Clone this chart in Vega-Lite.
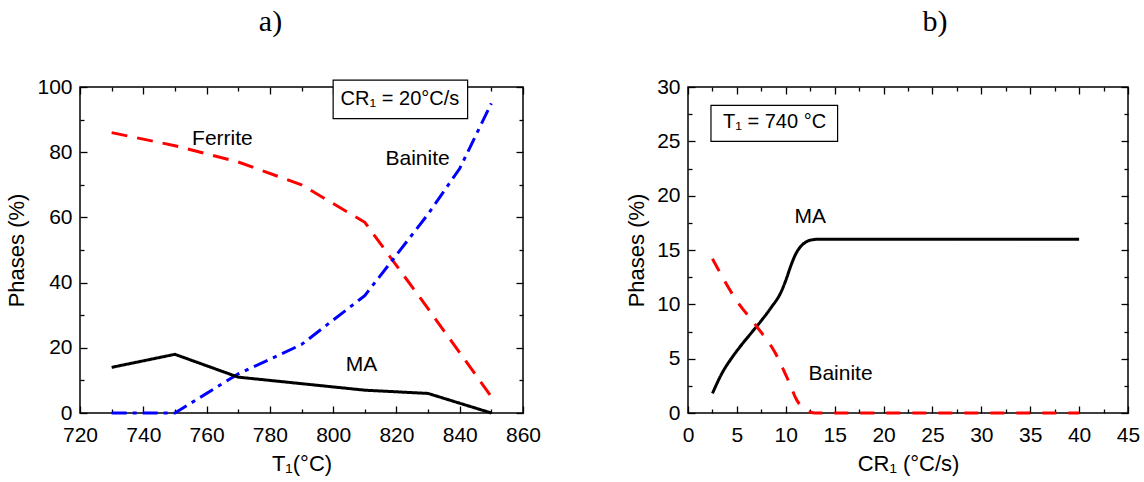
{
  "$schema": "https://vega.github.io/schema/vega-lite/v6.json",
  "padding": {"left": 5, "top": 6, "right": 2, "bottom": 5},
  "background": "white",
  "config": {
    "view": {"stroke": "black", "strokeWidth": 1.5},
    "font": "Liberation Sans",
    "axis": {
      "grid": false, "domain": false, "labelFlush": false,
      "labelFont": "Liberation Sans", "labelFontSize": 21, "labelColor": "black",
      "titleFont": "Liberation Sans", "titleFontSize": 22, "titleFontWeight": "normal", "titleColor": "black",
      "tickColor": "black", "tickWidth": 1.3
    }
  },
  "datasets": {
    "a_lines": [
      {"T": 730, "v": 86, "phase": "Ferrite"},
      {"T": 750, "v": 82, "phase": "Ferrite"},
      {"T": 770, "v": 77, "phase": "Ferrite"},
      {"T": 790, "v": 70, "phase": "Ferrite"},
      {"T": 810, "v": 58.5, "phase": "Ferrite"},
      {"T": 830, "v": 32, "phase": "Ferrite"},
      {"T": 850, "v": 5, "phase": "Ferrite"},
      {"T": 730, "v": 0, "phase": "Bainite"},
      {"T": 750, "v": 0, "phase": "Bainite"},
      {"T": 770, "v": 12, "phase": "Bainite"},
      {"T": 790, "v": 21, "phase": "Bainite"},
      {"T": 810, "v": 36, "phase": "Bainite"},
      {"T": 830, "v": 61, "phase": "Bainite"},
      {"T": 840, "v": 75, "phase": "Bainite"},
      {"T": 850, "v": 95, "phase": "Bainite"},
      {"T": 730, "v": 14, "phase": "MA"},
      {"T": 750, "v": 18, "phase": "MA"},
      {"T": 770, "v": 11, "phase": "MA"},
      {"T": 790, "v": 9, "phase": "MA"},
      {"T": 810, "v": 7, "phase": "MA"},
      {"T": 830, "v": 6, "phase": "MA"},
      {"T": 850, "v": 0, "phase": "MA"}
    ],
    "a_labels": [
      {"x": 765, "y": 84.2, "label": "Ferrite"},
      {"x": 826.7, "y": 77.8, "label": "Bainite"},
      {"x": 809, "y": 14.6, "label": "MA"}
    ],
    "a_box": [
      {"x1": 800, "x2": 842.5, "y1": 90.3, "y2": 102.1, "cx": 821.1, "cy": 96.3, "label": "CR₁ = 20°C/s"}
    ],
    "b_lines": [
      {"CR": 2.5, "v": 1.8, "phase": "MA"},
      {"CR": 3.5, "v": 3.7, "phase": "MA"},
      {"CR": 4.5, "v": 5.1, "phase": "MA"},
      {"CR": 5.5, "v": 6.3, "phase": "MA"},
      {"CR": 6.5, "v": 7.4, "phase": "MA"},
      {"CR": 7.5, "v": 8.5, "phase": "MA"},
      {"CR": 8.5, "v": 9.7, "phase": "MA"},
      {"CR": 9.5, "v": 11.1, "phase": "MA"},
      {"CR": 10, "v": 12.2, "phase": "MA"},
      {"CR": 10.5, "v": 13.5, "phase": "MA"},
      {"CR": 11, "v": 14.6, "phase": "MA"},
      {"CR": 11.5, "v": 15.3, "phase": "MA"},
      {"CR": 12, "v": 15.7, "phase": "MA"},
      {"CR": 12.5, "v": 15.9, "phase": "MA"},
      {"CR": 13.5, "v": 16, "phase": "MA"},
      {"CR": 40, "v": 16, "phase": "MA"},
      {"CR": 2.5, "v": 14.2, "phase": "Bainite"},
      {"CR": 5, "v": 10.3, "phase": "Bainite"},
      {"CR": 7, "v": 8.0, "phase": "Bainite"},
      {"CR": 9, "v": 5.4, "phase": "Bainite"},
      {"CR": 10, "v": 3.5, "phase": "Bainite"},
      {"CR": 10.5, "v": 2.5, "phase": "Bainite"},
      {"CR": 11, "v": 1.4, "phase": "Bainite"},
      {"CR": 11.5, "v": 0.7, "phase": "Bainite"},
      {"CR": 12, "v": 0.3, "phase": "Bainite"},
      {"CR": 12.5, "v": 0.08, "phase": "Bainite"},
      {"CR": 13, "v": 0, "phase": "Bainite"},
      {"CR": 40, "v": 0, "phase": "Bainite"}
    ],
    "b_labels": [
      {"x": 12.5, "y": 18.0, "label": "MA"},
      {"x": 15.6, "y": 3.6, "label": "Bainite"}
    ],
    "b_box": [
      {"x1": 2.35, "x2": 15.3, "y1": 25.0, "y2": 28.3, "cx": 8.85, "cy": 26.75, "label": "T₁ = 740 °C"}
    ]
  },
  "hconcat": [
    {
      "width": 443, "height": 326,
      "title": {"text": "a)", "font": "Liberation Serif", "fontSize": 30, "fontWeight": "normal", "color": "black", "anchor": "middle", "frame": "group", "dx": -31, "offset": 39},
      "layer": [
        {
          "data": {"name": "a_lines"},
          "mark": {"type": "line", "strokeWidth": 3},
          "encoding": {
            "x": {"field": "T", "type": "quantitative", "scale": {"domain": [720, 860], "nice": false, "zero": false},
                  "axis": {"orient": "bottom", "values": [720, 740, 760, 780, 800, 820, 840, 860], "tickSize": -7, "labelPadding": 18, "title": "T₁(°C)", "titlePadding": 8}},
            "y": {"field": "v", "type": "quantitative", "scale": {"domain": [0, 100], "nice": false},
                  "axis": {"orient": "left", "values": [0, 20, 40, 60, 80, 100], "tickSize": -7, "labelPadding": 15, "title": "Phases (%)", "titlePadding": 8}},
            "color": {"field": "phase", "type": "nominal", "scale": {"domain": ["Ferrite", "Bainite", "MA"], "range": ["#ff0000", "#0000ff", "#000000"]}, "legend": null},
            "strokeDash": {"field": "phase", "type": "nominal", "scale": {"domain": ["Ferrite", "Bainite", "MA"], "range": [[16, 10], [15, 6, 4, 6], [1, 0]]}, "legend": null}
          }
        },
        {
          "data": {"name": "a_labels"},
          "mark": {"type": "text", "fontSize": 21, "font": "Liberation Sans", "color": "black"},
          "encoding": {
            "x": {"field": "x", "type": "quantitative", "axis": {"orient": "top", "values": [720, 740, 760, 780, 800, 820, 840, 860], "tickSize": -7, "labels": false, "title": null}},
            "y": {"field": "y", "type": "quantitative", "axis": {"orient": "right", "values": [0, 20, 40, 60, 80, 100], "tickSize": -7, "labels": false, "title": null}},
            "text": {"field": "label"}
          }
        },
        {
          "data": {"name": "a_box"},
          "mark": {"type": "rect", "fill": "white", "stroke": "black", "strokeWidth": 1.2},
          "encoding": {
            "x": {"field": "x1", "type": "quantitative", "axis": {"orient": "bottom", "values": [730, 750, 770, 790, 810, 830, 850], "tickSize": -4, "labels": false, "title": null}},
            "x2": {"field": "x2"},
            "y": {"field": "y1", "type": "quantitative", "axis": {"orient": "left", "values": [10, 30, 50, 70, 90], "tickSize": -4, "labels": false, "title": null}},
            "y2": {"field": "y2"}
          }
        },
        {
          "data": {"name": "a_box"},
          "mark": {"type": "text", "fontSize": 20, "font": "Liberation Sans", "color": "black"},
          "encoding": {
            "x": {"field": "cx", "type": "quantitative", "axis": {"orient": "top", "values": [730, 750, 770, 790, 810, 830, 850], "tickSize": -4, "labels": false, "title": null}},
            "y": {"field": "cy", "type": "quantitative", "axis": {"orient": "right", "values": [10, 30, 50, 70, 90], "tickSize": -4, "labels": false, "title": null}},
            "text": {"field": "label"}
          }
        }
      ],
      "resolve": {"axis": {"x": "independent", "y": "independent"}}
    },
    {
      "width": 440, "height": 326,
      "title": {"text": "b)", "font": "Liberation Serif", "fontSize": 30, "fontWeight": "normal", "color": "black", "anchor": "middle", "frame": "group", "dx": 27, "offset": 39},
      "layer": [
        {
          "data": {"name": "b_lines"},
          "mark": {"type": "line", "strokeWidth": 3, "interpolate": "monotone"},
          "encoding": {
            "x": {"field": "CR", "type": "quantitative", "scale": {"domain": [0, 45], "nice": false},
                  "axis": {"orient": "bottom", "values": [0, 5, 10, 15, 20, 25, 30, 35, 40, 45], "tickSize": -7, "labelPadding": 18, "title": "CR₁ (°C/s)", "titlePadding": 8}},
            "y": {"field": "v", "type": "quantitative", "scale": {"domain": [0, 30], "nice": false},
                  "axis": {"orient": "left", "values": [0, 5, 10, 15, 20, 25, 30], "tickSize": -7, "labelPadding": 15, "title": "Phases (%)", "titlePadding": 8}},
            "color": {"field": "phase", "type": "nominal", "scale": {"domain": ["MA", "Bainite"], "range": ["#000000", "#ff0000"]}, "legend": null},
            "strokeDash": {"field": "phase", "type": "nominal", "scale": {"domain": ["MA", "Bainite"], "range": [[1, 0], [14, 12]]}, "legend": null}
          }
        },
        {
          "data": {"name": "b_labels"},
          "mark": {"type": "text", "fontSize": 21, "font": "Liberation Sans", "color": "black"},
          "encoding": {
            "x": {"field": "x", "type": "quantitative", "axis": {"orient": "top", "values": [0, 5, 10, 15, 20, 25, 30, 35, 40, 45], "tickSize": -7, "labels": false, "title": null}},
            "y": {"field": "y", "type": "quantitative", "axis": {"orient": "right", "values": [0, 5, 10, 15, 20, 25, 30], "tickSize": -7, "labels": false, "title": null}},
            "text": {"field": "label"}
          }
        },
        {
          "data": {"name": "b_box"},
          "mark": {"type": "rect", "fill": "white", "stroke": "black", "strokeWidth": 1.2},
          "encoding": {
            "x": {"field": "x1", "type": "quantitative", "axis": {"orient": "bottom", "values": [2.5, 7.5, 12.5, 17.5, 22.5, 27.5, 32.5, 37.5, 42.5], "tickSize": -4, "labels": false, "title": null}},
            "x2": {"field": "x2"},
            "y": {"field": "y1", "type": "quantitative", "axis": {"orient": "left", "values": [2.5, 7.5, 12.5, 17.5, 22.5, 27.5], "tickSize": -4, "labels": false, "title": null}},
            "y2": {"field": "y2"}
          }
        },
        {
          "data": {"name": "b_box"},
          "mark": {"type": "text", "fontSize": 20, "font": "Liberation Sans", "color": "black"},
          "encoding": {
            "x": {"field": "cx", "type": "quantitative", "axis": {"orient": "top", "values": [2.5, 7.5, 12.5, 17.5, 22.5, 27.5, 32.5, 37.5, 42.5], "tickSize": -4, "labels": false, "title": null}},
            "y": {"field": "cy", "type": "quantitative", "axis": {"orient": "right", "values": [2.5, 7.5, 12.5, 17.5, 22.5, 27.5], "tickSize": -4, "labels": false, "title": null}},
            "text": {"field": "label"}
          }
        }
      ],
      "resolve": {"axis": {"x": "independent", "y": "independent"}}
    }
  ],
  "spacing": 165,
  "bounds": "flush",
  "resolve": {"scale": {"color": "independent", "strokeDash": "independent"}}
}
